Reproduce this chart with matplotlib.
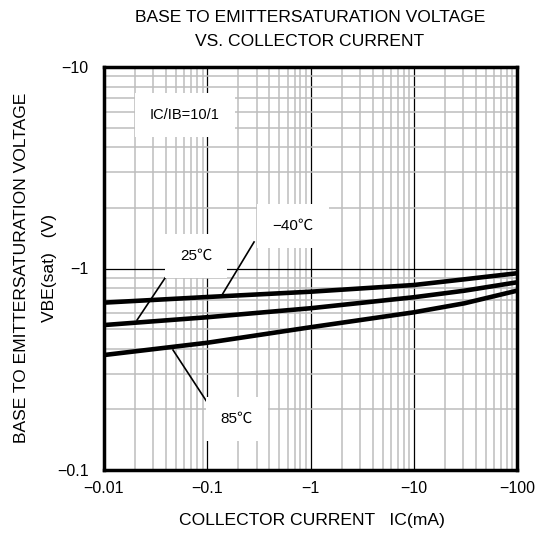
import matplotlib.pyplot as plt
from matplotlib.ticker import FixedLocator, FixedFormatter, LogLocator, NullFormatter

plt.rcParams['font.family'] = ['Liberation Sans', 'Noto Sans CJK JP', 'DejaVu Sans']
plt.rcParams['axes.linewidth'] = 2.5

# collector current |IC| (mA)
ic = [0.01, 0.1, 1, 10, 31, 100]
# |VBE(sat)| (V)
vbe_m40 = [0.677, 0.722, 0.767, 0.828, 0.884, 0.947]
vbe_25 = [0.524, 0.573, 0.635, 0.720, 0.776, 0.854]
vbe_85 = [0.372, 0.428, 0.511, 0.606, 0.672, 0.776]

xticks = [0.01, 0.1, 1, 10, 100]
xticklabels = ["−0.01", "−0.1", "−1", "−10", "−100"]
yticks = [0.1, 1, 10]
yticklabels = ["−0.1", "−1", "−10"]

fig = plt.figure(figsize=(5.39, 5.33), dpi=100)
ax = fig.add_axes([104 / 539, 1 - 470 / 533, 413 / 539, 403 / 533])
ax.set_xscale("log")
ax.set_yscale("log")
ax.set_xlim(0.01, 100)
ax.set_ylim(0.1, 10)

ax.xaxis.set_major_locator(FixedLocator(xticks))
ax.xaxis.set_major_formatter(FixedFormatter(xticklabels))
ax.yaxis.set_major_locator(FixedLocator(yticks))
ax.yaxis.set_major_formatter(FixedFormatter(yticklabels))
ax.xaxis.set_minor_locator(LogLocator(base=10, subs=range(2, 10)))
ax.yaxis.set_minor_locator(LogLocator(base=10, subs=range(2, 10)))
ax.xaxis.set_minor_formatter(NullFormatter())
ax.yaxis.set_minor_formatter(NullFormatter())
ax.tick_params(which="both", length=0)
ax.tick_params(axis="x", pad=8, labelsize=11.5)
ax.tick_params(axis="y", pad=11, labelsize=11.5)

ax.grid(which="minor", color="#bdbdbd", lw=1.1)
ax.grid(which="major", color="black", lw=0.9)
ax.set_axisbelow(True)

for v in (vbe_m40, vbe_25, vbe_85):
    ax.plot(ic, v, color="black", lw=3.3, solid_capstyle="butt", zorder=3)

box = dict(boxstyle="square,pad=1.0", fc="white", ec="none")
ax.text(0.0609, 5.78, "IC/IB=10/1", ha="center", va="center", fontsize=10.5, bbox=box, zorder=4)
ax.text(0.0778, 1.153, "25℃", ha="center", va="center", fontsize=11, bbox=box, zorder=4)
ax.text(0.677, 1.625, "−40℃", ha="center", va="center", fontsize=11, bbox=box, zorder=4)
ax.text(0.194, 0.179, "85℃", ha="center", va="center", fontsize=11, bbox=box, zorder=4)

# leader lines
ax.plot([0.0446, 0.0209], [0.994, 0.555], color="black", lw=1.2, zorder=3)
ax.plot([0.284, 0.139], [1.354, 0.739], color="black", lw=1.2, zorder=3)
ax.plot([0.0466, 0.104], [0.394, 0.210], color="black", lw=1.2, zorder=3)

fs = 12.6
fig.text(310 / 539, 1 - 17 / 533, "BASE TO EMITTERSATURATION VOLTAGE", ha="center", va="center", fontsize=fs)
fig.text(310 / 539, 1 - 41 / 533, "VS. COLLECTOR CURRENT", ha="center", va="center", fontsize=fs)
fig.text(312 / 539, 1 - 521 / 533, "COLLECTOR CURRENT   IC(mA)", ha="center", va="center", fontsize=fs)
fig.text(22 / 539, 1 - 268 / 533, "BASE TO EMITTERSATURATION VOLTAGE", ha="center", va="center", rotation=90, fontsize=fs)
fig.text(50 / 539, 1 - 268 / 533, "VBE(sat)   (V)", ha="center", va="center", rotation=90, fontsize=fs)

fig.savefig("out.png", dpi=100)
